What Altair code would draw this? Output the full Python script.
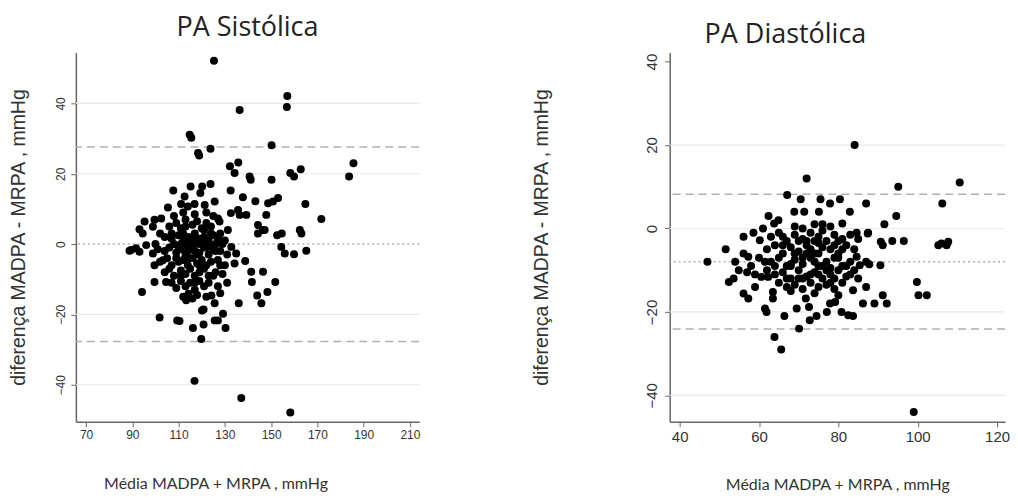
import altair as alt
import pandas as pd

# ---------------- PA Sistólica ----------------
sys_media = [
    125.3, 136.4, 157.0, 156.8, 114.8, 115.5, 118.4, 118.9, 123.8, 150.2,
    132.2, 134.2, 135.8, 140.7, 141.2, 150.2, 158.3, 159.9, 162.8, 183.7,
    185.6, 107.7, 115.2, 120.2, 123.8, 112.6, 119.4, 132.5, 137.8, 143.2,
    148.7, 150.8, 153.0, 164.8, 171.7, 105.4, 111.1, 114.0, 116.9, 121.3,
    125.6, 95.3, 93.1, 94.5, 99.6, 102.5, 98.9, 132.6, 135.7, 136.4,
    139.3, 147.9, 127.0, 127.7, 131.3, 144.3, 146.5, 144.3, 147.2, 152.6,
    154.6, 162.4, 163.1, 154.4, 155.9, 159.9, 165.2, 132.8, 134.2, 138.8,
    134.9, 141.4, 146.5, 141.7, 151.8, 144.0, 148.4, 145.8, 136.0, 94.2,
    99.6, 104.6, 88.8, 93.1, 89.5, 96.0, 98.9, 99.6, 103.2, 91.6,
    101.8, 109.4, 110.4, 116.2, 120.8, 119.8, 125.6, 127.0, 129.2, 130.3,
    125.6, 124.2, 120.1, 120.8, 113.3, 114.3, 116.9, 137.1, 158.3,
    108, 112, 117, 122, 125,
    106, 109, 111, 113, 116, 118, 120, 122, 124, 128,
    104, 107, 110, 112, 114, 116, 117, 119, 121, 123, 125, 127, 130, 102,
    108, 111, 113, 115, 117, 119, 121, 123, 126, 129, 100,
    101, 104, 106, 109, 111, 113, 115, 117, 119, 121, 123, 125, 128, 131,
    102, 105, 107, 110, 112, 114, 116, 118, 120, 122, 124, 127, 130,
    104, 106, 108, 111, 113, 115, 117, 119, 121, 123, 126, 129,
    107, 109, 111, 113, 115, 117, 119, 121, 123, 127, 131,
    112, 116, 118, 122, 128,
    110, 112, 114, 116, 118, 120, 122, 124, 126, 118,
    113, 115, 119, 121, 117, 111, 125, 109, 107, 128,
]
sys_dif = [
    52.1, 38.1, 42.1, 39.0, 31.1, 30.2, 25.9, 25.2, 27.1, 28.1,
    22.1, 20.2, 23.2, 19.2, 18.3, 18.3, 20.2, 19.2, 21.3, 19.2,
    23.0, 15.2, 16.4, 16.4, 17.1, 13.5, 14.5, 15.2, 13.3, 12.2,
    11.6, 12.1, 13.1, 11.4, 7.1, 10.4, 11.4, 10.7, 11.4, 11.1,
    12.1, 6.4, 4.2, 3.0, 6.9, 7.3, 4.9, 8.8, 9.7, 8.3,
    8.3, 8.3, 7.3, 6.4, 4.0, 5.4, 4.0, 3.0, 4.0, 2.5,
    3.0, 4.0, 3.0, -0.8, -2.7, -2.9, -1.9, -0.8, -5.5, -4.8,
    -2.7, -7.9, -7.9, -10.8, -10.8, -14.6, -13.6, -16.8, -16.8, -13.6,
    -10.8, -10.8, -1.9, -2.2, -1.7, -0.3, -2.7, -6.0, -4.6, -1.2,
    -20.9, -21.7, -21.9, -23.9, -22.9, -27.0, -21.7, -21.7, -19.8, -23.9,
    -16.8, -14.6, -18.9, -18.6, -16.0, -14.1, -38.9, -43.8, -47.9,
    8, 9, 8.5, 9, 8,
    5, 6, 4.5, 7, 5.5, 6.5, 4.5, 6, 5, 3,
    2, 1.5, 2.5, 1, 2, 1, 3, 1.5, 2, 1, 2.5, 1.5, 1, 3,
    0, 0, 0, 0, 0, 0, 0, 0, 0, 0, 0,
    -1.5, -2, -1, -2.5, -1.5, -3, -1, -2, -2.5, -1, -3, -1.5, -2, -3,
    -5, -4, -6, -5, -4.5, -6, -4, -5.5, -4.5, -6, -5, -4.5, -6,
    -8, -7, -9, -7.5, -8.5, -7, -9, -8, -7, -9, -8, -8.5,
    -11, -12.5, -10.5, -12, -11, -13, -10.5, -12, -11, -12, -11,
    -15, -15.5, -14.5, -15, -14,
    -1, 3, -2, 2, -3, 1, -1, 3, -2, 0.5,
    5, -4, -6, 4, -11, -9, -9, -4, 3, -6,
]
sys_xticks = [70, 90, 110, 130, 150, 170, 190, 210]
sys_yticks = [-40, -20, 0, 20, 40]
sys_grid = [-40, -20, 20, 40]
sys_limits = [27.6, -27.7]
sys_bias = [0.0]

# ---------------- PA Diastólica ----------------
dia_media = [
    84.1, 72.0, 95.1, 110.6, 67.1, 70.5, 75.5, 80.4, 77.9, 87.0,
    106.2, 68.9, 71.4, 75.1, 82.9, 94.6, 62.4, 63.8, 64.9, 91.6,
    56.1, 58.6, 61.0, 69.0, 71.0, 74.0, 76.0, 78.0, 81.0, 84.6,
    87.5, 90.7, 91.2, 93.6, 96.5, 105.2, 106.0, 107.3, 107.7, 90.6,
    99.8, 100.2, 102.3, 91.2, 92.2, 89.1, 87.0, 86.2, 84.6, 85.4,
    87.0, 87.8, 87.4, 47.0, 51.6, 54.0, 54.9, 52.4, 53.6, 56.1,
    57.3, 56.1, 57.3, 59.0, 60.2, 61.5, 60.6, 62.3, 63.5, 63.5,
    61.5, 61.9, 66.4, 69.5, 70.1, 63.9, 65.6, 72.8, 74.5, 77.1,
    80.8, 82.5, 83.7, 72.6, 71.8, 77.9, 79.2, 83.7, 99.0,
    63, 65, 67, 69, 71, 73, 75, 77, 79, 81, 83, 66, 72, 76, 80, 85,
    62, 64, 66, 68, 70, 72, 74, 76, 78, 80, 82, 84, 69, 73, 75, 79,
    63, 65, 67, 69, 71, 73, 75, 77, 79, 81, 83, 58, 60, 68, 74, 78,
    62, 64, 66, 68, 70, 72, 74, 76, 78, 80, 82, 84, 59, 57, 71, 75,
    65, 67, 69, 71, 73, 75, 77, 79, 81, 68, 74, 80,
    66, 68, 70, 72, 74, 76, 78, 80, 82, 70,
    73, 75, 77, 79, 81, 67, 64, 85, 83, 71,
]
dia_dif = [
    20.0, 12.0, 10.0, 11.0, 8.0, 7.0, 7.0, 7.0, 6.0, 6.0,
    6.0, 4.0, 4.0, 4.0, 4.0, 3.0, 3.0, 1.2, 2.0, 1.0,
    -2.0, -1.0, 0.0, 0.5, 0.0, 1.0, 1.0, 0.5, 1.2, -1.0,
    -1.0, -3.2, -4.0, -3.0, -3.0, -4.0, -3.6, -4.0, -3.2, -8.8,
    -12.8, -16.0, -16.0, -16.0, -18.0, -18.0, -14.0, -18.0, -6.8, -8.8,
    -8.0, -8.6, -1.2, -8.0, -5.0, -8.0, -10.0, -12.8, -12.0, -6.0,
    -6.8, -15.6, -16.8, -14.0, -2.8, -8.0, -11.6, -11.6, -15.2, -16.8,
    -19.2, -20.0, -21.0, -19.2, -24.0, -26.0, -29.0, -22.0, -21.0, -20.0,
    -20.0, -20.8, -21.0, -18.8, -16.8, -18.0, -17.6, -14.8, -44.0,
    -2, -1, -3, -1.5, -2.5, -1, -2, -3, -1.5, -2.5, -1.5, -2, -3, -0.5, -3, -2.5,
    -5, -4, -6, -4.5, -5.5, -4, -6, -4.5, -5, -6, -4, -5, -6, -5, -3.5, -4,
    -8, -7, -9, -7.5, -8.5, -7, -9, -8, -7, -9, -8, -9, -7, -8.5, -8, -9.5,
    -10, -11, -10.5, -12, -10, -11.5, -10.5, -12, -11, -10, -11.5, -10, -11, -10.5, -12, -11,
    -13, -14, -13.5, -14.5, -13, -14, -13.5, -14.5, -13, -15, -15.5, -16,
    -4, -9, -12, -6, -3, -9, -13, -7, -9, -3,
    -11, -6, -10, -12, -5, -12, -9, -12, -11, -7,
]
dia_xticks = [40, 60, 80, 100, 120]
dia_yticks = [-40, -20, 0, 20, 40]
dia_grid = [-40, -20, 0, 20]
dia_limits = [8.2, -24.1]
dia_bias = [-8.0]

AXIS_COL = "#666666"
TEXT_COL = "#333333"


def panel(media, dif, xdom, ydom, xticks, yticks, grid, limits, bias, title,
          labsize, ylabpad, ytitlepad, xtitlepad, width, title_dx, title_dy, xtitle_x):
    pts = pd.DataFrame({"m": media, "d": dif})
    ys = alt.Scale(domain=ydom, nice=False, zero=False)
    xs = alt.Scale(domain=xdom, nice=False, zero=False)
    yaxis = alt.Axis(values=yticks, grid=False, labelAngle=270, labelFont="Liberation Sans",
                     labelFontSize=labsize, labelColor=TEXT_COL, labelPadding=ylabpad,
                     tickSize=5, tickColor=AXIS_COL, domainColor=AXIS_COL, domainWidth=1.5,
                     title="diferença MADPA - MRPA , mmHg", titleFont="Liberation Sans",
                     titleFontSize=19.5, titleFontWeight="normal", titleColor=TEXT_COL,
                     titlePadding=ytitlepad)
    xkw = {}
    if xtitle_x is not None:
        xkw["titleX"] = xtitle_x
    xaxis = alt.Axis(values=xticks, grid=False, labelAngle=0, labelFont="Liberation Sans",
                     labelFontSize=labsize, labelColor=TEXT_COL, labelPadding=3,
                     tickSize=5, tickColor=AXIS_COL, domainColor=AXIS_COL, domainWidth=1.5,
                     title="Média MADPA + MRPA , mmHg", titleFont="Lato",
                     titleFontSize=16, titleFontWeight="normal", titleColor=TEXT_COL,
                     titlePadding=xtitlepad, **xkw)
    Y = alt.Y("d:Q", scale=ys, axis=yaxis)
    X = alt.X("m:Q", scale=xs, axis=xaxis)

    g = alt.Chart(pd.DataFrame({"d": grid})).mark_rule(
        color="#e8e8e8", strokeWidth=1.2).encode(y=Y)
    lim = alt.Chart(pd.DataFrame({"d": limits})).mark_rule(
        color="#b0b0b0", strokeWidth=1.5, strokeDash=[8, 5]).encode(y=Y)
    bia = alt.Chart(pd.DataFrame({"d": bias})).mark_rule(
        color="#b0b0b0", strokeWidth=1.5, strokeDash=[2, 3]).encode(y=Y)
    dots = alt.Chart(pts).mark_circle(size=64, color="black", opacity=1).encode(x=X, y=Y)
    return alt.layer(g, lim, bia, dots).properties(
        width=width, height=370,
        title=alt.TitleParams(title, font="Open Sans", fontSize=27, fontWeight="normal",
                              color="#222222", anchor="middle", offset=10,
                              dx=title_dx, dy=title_dy),
    )


left = panel(sys_media, sys_dif, [65.6, 214], [-50.5, 54.5], sys_xticks, sys_yticks,
             sys_grid, sys_limits, sys_bias, "PA Sistólica", 12, 3, 26.5, 35, 344,
             0, 0, 140)
right = panel(dia_media, dia_dif, [37.48, 122.01], [-46.3, 42.2], dia_xticks, dia_yticks,
              dia_grid, dia_limits, dia_bias, "PA Diastólica", 15, 5, 93.5, 32, 336,
              -52, 7, None)

chart = alt.hconcat(left, right, spacing=111).properties(
    padding={"left": 0, "top": 6, "right": 0, "bottom": 5}
).configure_view(stroke=None)

chart.save("out.html", embed_options={"renderer": "svg", "actions": False})
